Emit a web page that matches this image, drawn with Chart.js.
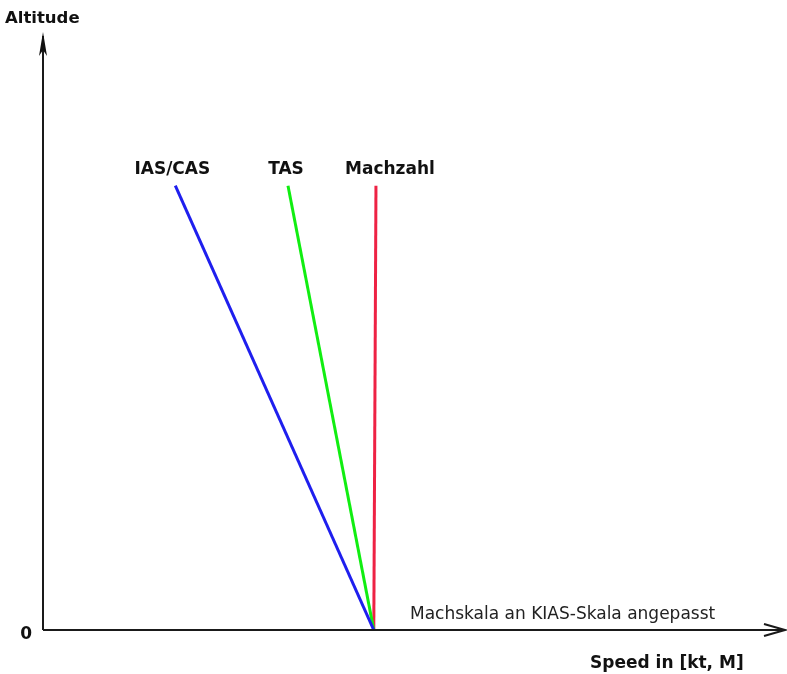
<!DOCTYPE html>
<html>
<head>
<meta charset="utf-8">
<script src="https://cdn.jsdelivr.net/npm/chart.js@4.4.0/dist/chart.umd.min.js"></script>
<style>
  html, body { margin: 0; padding: 0; background: #fff; }
  #wrap { width: 787px; height: 674px; }
</style>
</head>
<body>
<div id="wrap"><canvas id="chart"></canvas></div>
<script>
// Datos: cada serie va del origen común (abajo) hasta la altitud máxima
const seriesNames = ['IAS/CAS', 'TAS', 'Machzahl'];
const seriesColors = ['#1f1fee', '#11ee11', '#ee2244'];
const startSpeed = [45.5, 45.5, 45.5];
const endSpeed = [18.2, 33.7, 45.8];
const altitudes = [0, 75.3];
const yTickLabels = ['0'];
const axisTitles = { x: 'Speed in [kt, M]', y: 'Altitude' };
const note = 'Machskala an KIAS-Skala angepasst';

const datasets = seriesNames.map((name, i) => ({
    label: name,
    data: [
        { x: startSpeed[i], y: altitudes[0] },
        { x: endSpeed[i], y: altitudes[1] }
    ],
    borderColor: seriesColors[i],
    borderWidth: 3,
    showLine: true,
    pointRadius: 0,
    fill: false
}));

// Plugin para dibujar ejes con flechas y los textos
const decoPlugin = {
    id: 'deco',
    afterDatasetsDraw(chart) {
        const ctx = chart.ctx;
        const xs = chart.scales.x;
        const ys = chart.scales.y;
        const ox = xs.getPixelForValue(0);
        const oy = ys.getPixelForValue(0);
        ctx.save();
        ctx.strokeStyle = '#1a1a1a';
        ctx.fillStyle = '#111';
        ctx.lineWidth = 2;
        // eje Y
        ctx.beginPath();
        ctx.moveTo(ox, oy);
        ctx.lineTo(ox, 36);
        ctx.stroke();
        ctx.beginPath();
        ctx.moveTo(ox, 32);
        ctx.lineTo(ox - 4, 56);
        ctx.lineTo(ox, 50);
        ctx.lineTo(ox + 4, 56);
        ctx.closePath();
        ctx.fill();
        // eje X
        ctx.beginPath();
        ctx.moveTo(ox, oy);
        ctx.lineTo(783, oy);
        ctx.stroke();
        ctx.beginPath();
        ctx.moveTo(764, oy - 6);
        ctx.lineTo(785, oy);
        ctx.lineTo(764, oy + 6);
        ctx.stroke();

        // etiquetas de las series
        ctx.font = 'bold 17px "DejaVu Sans"';
        ctx.textAlign = 'center';
        ctx.textBaseline = 'alphabetic';
        const labelDx = [-3, -2, 14];
        seriesNames.forEach((name, i) => {
            const px = xs.getPixelForValue(endSpeed[i]) + labelDx[i];
            const py = ys.getPixelForValue(altitudes[1]) - 12;
            ctx.fillText(name, px, py);
        });

        // títulos de ejes
        ctx.textAlign = 'left';
        ctx.font = 'bold 16.5px "DejaVu Sans"';
        ctx.fillText(axisTitles.y, 5, 23);
        ctx.font = 'bold 17px "DejaVu Sans"';
        ctx.fillText(axisTitles.x, 590, 668);
        ctx.textAlign = 'right';
        ctx.fillText(yTickLabels[0], 32, 639);

        // nota
        ctx.fillStyle = '#222';
        ctx.font = '17px "DejaVu Sans"';
        ctx.textAlign = 'left';
        ctx.fillText(note, 410, 619);
        ctx.restore();
    }
};

new Chart(document.getElementById('chart'), {
    type: 'scatter',
    data: { datasets: datasets },
    options: {
        responsive: true,
        maintainAspectRatio: false,
        animation: false,
        layout: { padding: { left: 43, right: 17, top: 40, bottom: 44 } },
        plugins: { legend: { display: false }, tooltip: { enabled: false } },
        scales: {
            x: { type: 'linear', min: 0, max: 100, display: false },
            y: { type: 'linear', min: 0, max: 100, display: false }
        }
    },
    plugins: [decoPlugin]
});
</script>
</body>
</html>
